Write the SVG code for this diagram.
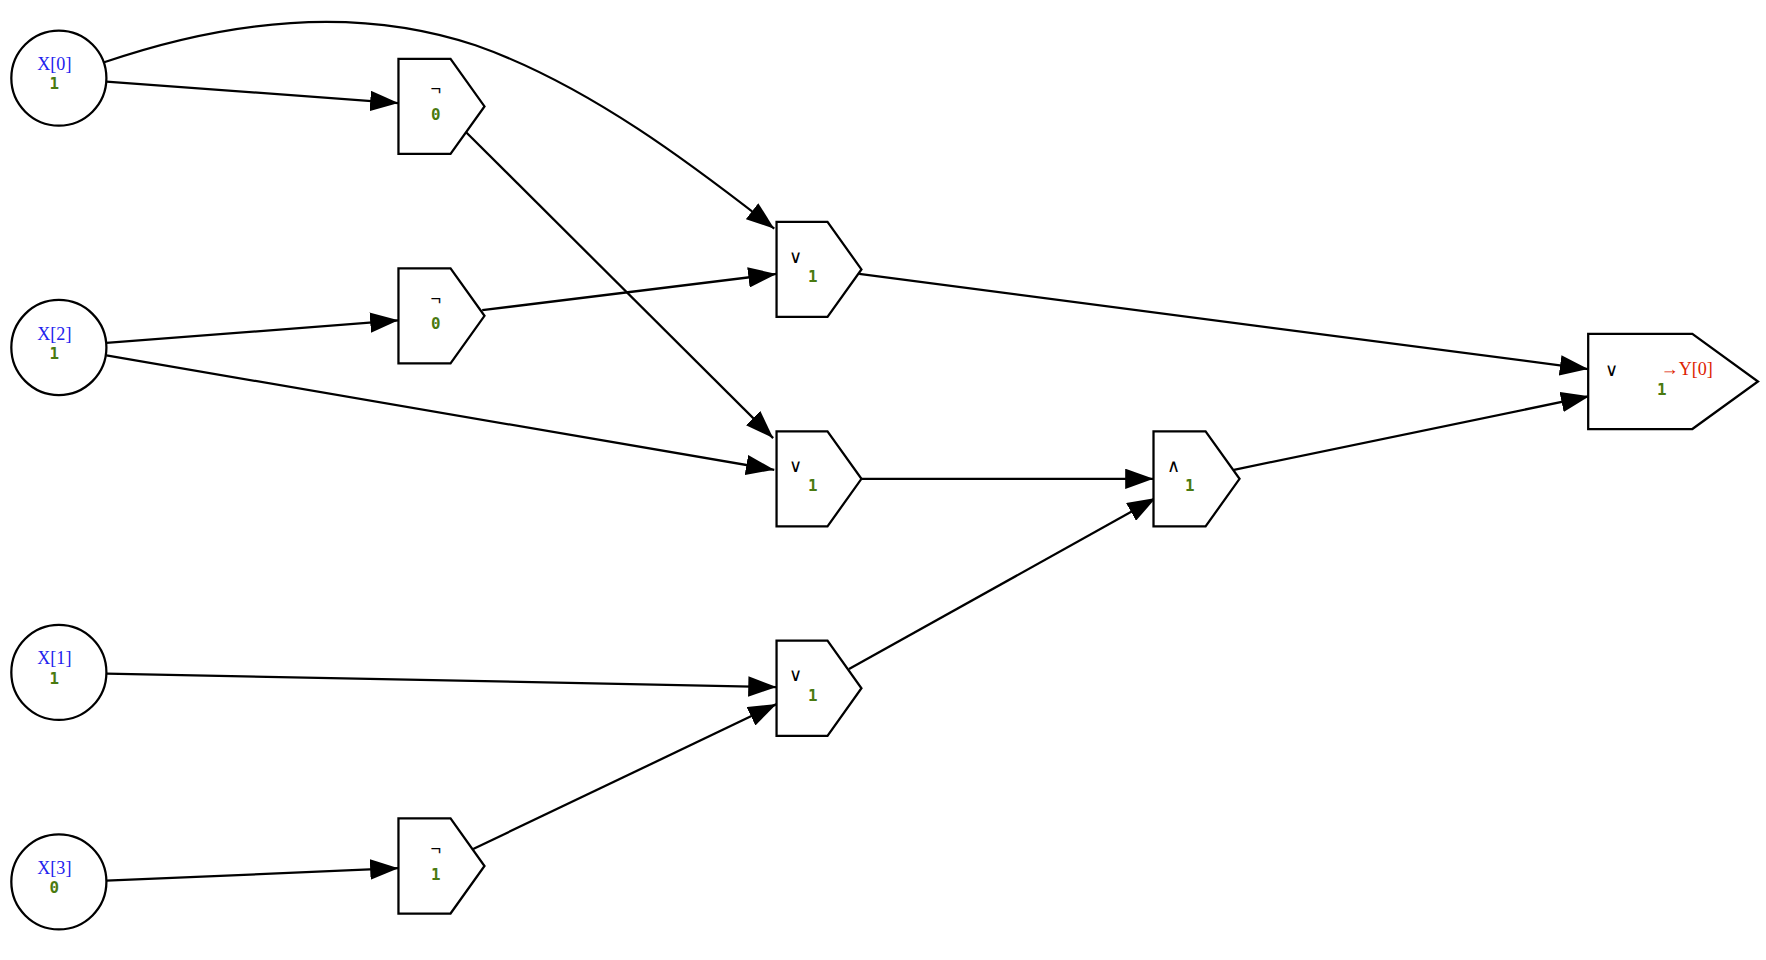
<svg xmlns="http://www.w3.org/2000/svg" width="1766" height="960" viewBox="0 0 1766 960">
<style>
.n{fill:#fff;stroke:#000;stroke-width:2}
.e{fill:none;stroke:#000;stroke-width:2}
.x{font-family:"Liberation Serif",serif;font-size:16px;fill:#2222ee;text-anchor:middle}
.v{font-family:"DejaVu Sans Mono","Liberation Mono",monospace;font-size:14px;font-weight:bold;fill:#4a7a10;text-anchor:middle}
.op{font-family:"Liberation Sans",sans-serif;font-size:16px;fill:#000;text-anchor:middle}
.y{font-family:"Liberation Serif",serif;font-size:16px;fill:#dd2200;text-anchor:middle}
</style>
<defs><marker id="a" markerUnits="userSpaceOnUse" markerWidth="25" markerHeight="18" viewBox="0 0 25 18" refX="25" refY="9" orient="auto"><path d="M0,0 L25,9 L0,18 Z" fill="#000"/></marker></defs>
<rect width="1766" height="960" fill="#fff"/>
<g transform="scale(1.132)">
<g id="connectors" class="e" marker-end="url(#a)">
<path d="M94,72 L352,91"/>
<path d="M92,55 C180,25 300,0 420,40 C520,75 615,148 684,202"/>
<path d="M412,117 L683,387"/>
<path d="M94,303 L352,283"/>
<path d="M94,314 L684,415"/>
<path d="M426,274 L686,242"/>
<path d="M759,242 L1403,326"/>
<path d="M761,423 L1019,423"/>
<path d="M750,591 L1021,440"/>
<path d="M1090,415 L1404,350"/>
<path d="M94,595 L686,607"/>
<path d="M94,778 L352,767"/>
<path d="M418,750 L686,622"/>
</g>
<g id="x0"><circle class="n" cx="52" cy="69" r="42"/><text class="x" x="48" y="62">X[0]</text><text class="v" x="48" y="79">1</text></g>
<g id="x2"><circle class="n" cx="52" cy="307" r="42"/><text class="x" x="48" y="300">X[2]</text><text class="v" x="48" y="317">1</text></g>
<g id="x1"><circle class="n" cx="52" cy="594" r="42"/><text class="x" x="48" y="587">X[1]</text><text class="v" x="48" y="604">1</text></g>
<g id="x3"><circle class="n" cx="52" cy="779" r="42"/><text class="x" x="48" y="772">X[3]</text><text class="v" x="48" y="789">0</text></g>
<g id="not1"><path class="n" d="M352,52 H398 L428,94 L398,136 H352 Z"/><text class="op" x="385" y="84">¬</text><text class="v" x="385" y="106">0</text></g>
<g id="not2"><path class="n" d="M352,237 H398 L428,279 L398,321 H352 Z"/><text class="op" x="385" y="269">¬</text><text class="v" x="385" y="291">0</text></g>
<g id="not3"><path class="n" d="M352,723 H398 L428,765 L398,807 H352 Z"/><text class="op" x="385" y="755">¬</text><text class="v" x="385" y="777">1</text></g>
<g id="or1"><path class="n" d="M686,196 H731 L761,238 L731,280 H686 Z"/><text class="op" x="703" y="232">∨</text><text class="v" x="718" y="249">1</text></g>
<g id="or2"><path class="n" d="M686,381 H731 L761,423 L731,465 H686 Z"/><text class="op" x="703" y="417">∨</text><text class="v" x="718" y="434">1</text></g>
<g id="or3"><path class="n" d="M686,566 H731 L761,608 L731,650 H686 Z"/><text class="op" x="703" y="602">∨</text><text class="v" x="718" y="619">1</text></g>
<g id="and"><path class="n" d="M1019,381 H1065 L1095,423 L1065,465 H1019 Z"/><text class="op" x="1037" y="417">∧</text><text class="v" x="1051" y="434">1</text></g>
<g id="out"><path class="n" d="M1403,295 H1495 L1553,337 L1495,379 H1403 Z"/><text class="op" x="1424" y="332">∨</text><text class="y" x="1490" y="331">→Y[0]</text><text class="v" x="1468" y="349">1</text></g>
</g>
</svg>
